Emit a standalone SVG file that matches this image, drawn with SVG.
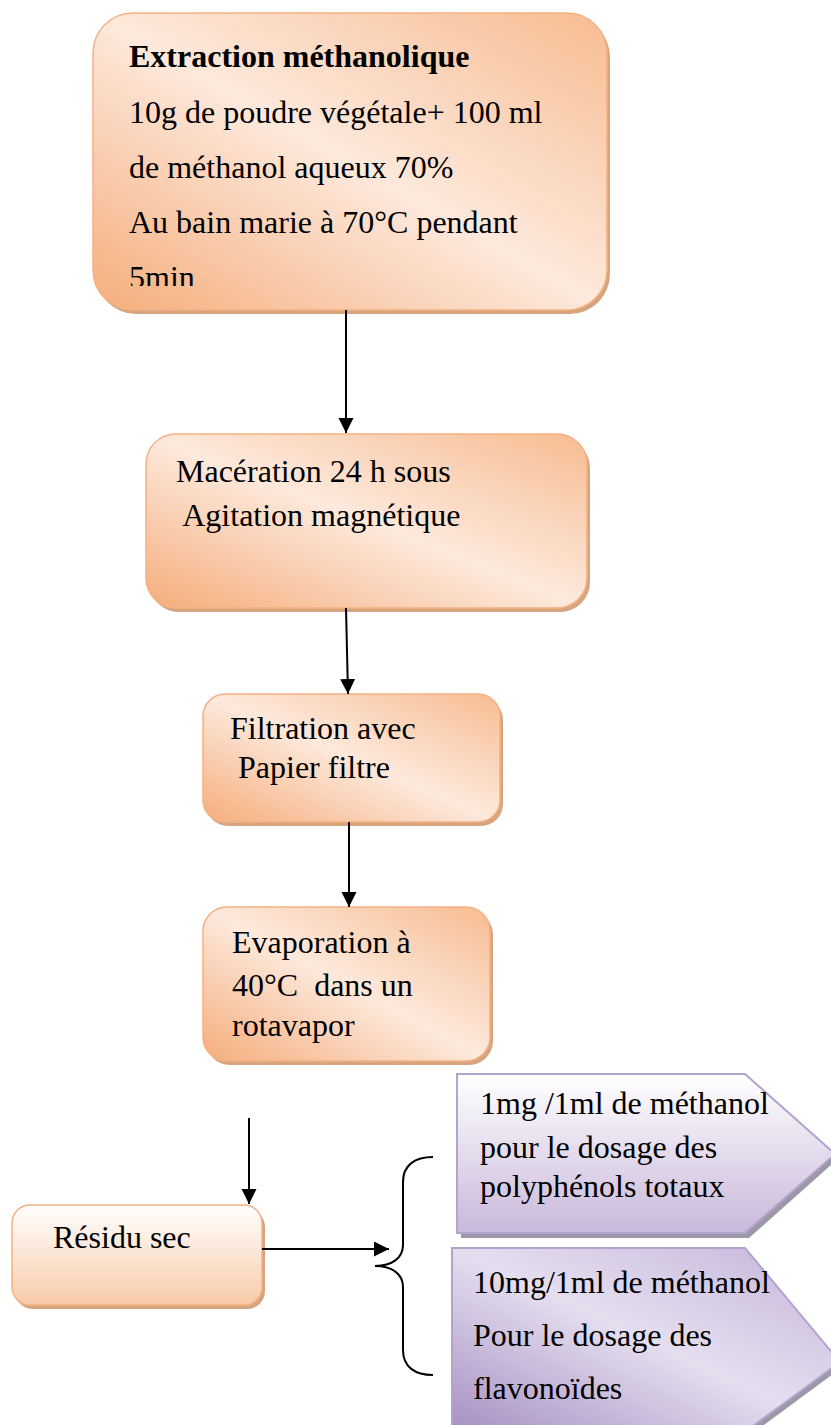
<svg xmlns="http://www.w3.org/2000/svg" width="831" height="1425" viewBox="0 0 831 1425">
<style>
text{font-family:"Liberation Serif","Times New Roman",serif;font-size:32px;fill:#000}
.b{font-weight:bold}
.box{stroke:#f4b183;stroke-width:1.5}
.sh{fill:#d6a47f}
.psh{fill:#9d98a6}
.pent{stroke:#b3a3cf;stroke-width:2}
.con{stroke:#000;stroke-width:2;fill:none}
</style>
<defs>
<linearGradient id="og" x1="0" y1="1" x2="1" y2="0">
<stop offset="0" stop-color="#f5ad7c"/>
<stop offset="0.5" stop-color="#fde9dc"/>
<stop offset="1" stop-color="#f7bc91"/>
</linearGradient>
<linearGradient id="ov" x1="0" y1="0" x2="0" y2="1">
<stop offset="0" stop-color="#ffffff"/>
<stop offset="1" stop-color="#f8cba8"/>
</linearGradient>
<linearGradient id="pv" x1="0" y1="0" x2="0" y2="1">
<stop offset="0" stop-color="#ffffff"/>
<stop offset="1" stop-color="#c9b8da"/>
</linearGradient>
<linearGradient id="pd" x1="0" y1="1" x2="1" y2="0">
<stop offset="0" stop-color="#a690c3"/>
<stop offset="0.5" stop-color="#e5deef"/>
<stop offset="1" stop-color="#c4b4d9"/>
</linearGradient>
<marker id="ah" markerUnits="userSpaceOnUse" markerWidth="16" markerHeight="16" refX="15" refY="7.5" orient="auto">
<path d="M0,0 L15,7.5 L0,15 z" fill="#000"/>
</marker>
<clipPath id="c1"><rect x="93" y="13" width="514" height="273"/></clipPath>
</defs>

<g id="n1">
<rect class="sh" x="96" y="17" width="514" height="297" rx="40"/>
<rect class="box" x="93" y="13" width="514" height="297" rx="40" fill="url(#og)"/>
<g clip-path="url(#c1)">
<text class="b" x="129" y="67">Extraction méthanolique</text>
<text x="129" y="123">10g de poudre végétale+ 100 ml</text>
<text x="129" y="178">de méthanol aqueux 70%</text>
<text x="129" y="233">Au bain marie à 70°C pendant</text>
<text x="129" y="288">5min</text>
</g>
</g>

<g id="n2">
<rect class="sh" x="149" y="438" width="441" height="174" rx="30"/>
<rect class="box" x="146" y="434" width="441" height="174" rx="30" fill="url(#og)"/>
<text x="176" y="482">Macération 24 h sous</text>
<text x="176" y="526" xml:space="preserve"> Agitation magnétique</text>
</g>

<g id="n3">
<rect class="sh" x="206" y="698" width="297" height="128" rx="22"/>
<rect class="box" x="203" y="694" width="297" height="128" rx="22" fill="url(#og)"/>
<text x="230" y="739">Filtration avec</text>
<text x="230" y="778" xml:space="preserve"> Papier filtre</text>
</g>

<g id="n4">
<rect class="sh" x="206" y="911" width="287" height="154" rx="24"/>
<rect class="box" x="203" y="907" width="287" height="154" rx="24" fill="url(#og)"/>
<text x="232" y="953">Evaporation à</text>
<text x="232" y="996" xml:space="preserve">40°C  dans un</text>
<text x="232" y="1036">rotavapor</text>
</g>

<g id="n5">
<rect class="sh" x="15" y="1209" width="250" height="100" rx="18"/>
<rect class="box" x="12" y="1205" width="250" height="100" rx="18" fill="url(#ov)"/>
<text x="53" y="1248">Résidu sec</text>
</g>

<g id="n6">
<path class="psh" d="M461,1078 L749,1078 L839,1158 L749,1238 L461,1238 z"/>
<path class="pent" d="M457,1074 L745,1074 L835,1154 L745,1233 L457,1233 z" fill="url(#pv)"/>
<text x="480" y="1114">1mg /1ml de méthanol</text>
<text x="480" y="1158">pour le dosage des</text>
<text x="480" y="1197">polyphénols totaux</text>
</g>

<g id="n7">
<path class="psh" d="M456,1252 L749,1252 L844,1366 L749,1436 L456,1436 z"/>
<path class="pent" d="M452,1248 L745,1248 L840,1362 L745,1432 L452,1432 z" fill="url(#pd)"/>
<text x="473" y="1293">10mg/1ml de méthanol</text>
<text x="473" y="1346">Pour le dosage des</text>
<text x="473" y="1399">flavonoïdes</text>
</g>

<g id="connectors">
<line class="con" x1="346" y1="310" x2="346" y2="433" marker-end="url(#ah)"/>
<line class="con" x1="346" y1="608" x2="348" y2="694" marker-end="url(#ah)"/>
<line class="con" x1="349" y1="822" x2="349" y2="907" marker-end="url(#ah)"/>
<line class="con" x1="249" y1="1118" x2="249" y2="1204" marker-end="url(#ah)"/>
<line class="con" x1="262" y1="1249" x2="389" y2="1249" marker-end="url(#ah)"/>
<path class="con" d="M433,1157 C415,1157 403,1165 403,1182 L403,1245 C403,1258 392,1266 375,1266 C392,1266 403,1274 403,1287 L403,1350 C403,1367 415,1375 433,1375"/>
</g>
</svg>
